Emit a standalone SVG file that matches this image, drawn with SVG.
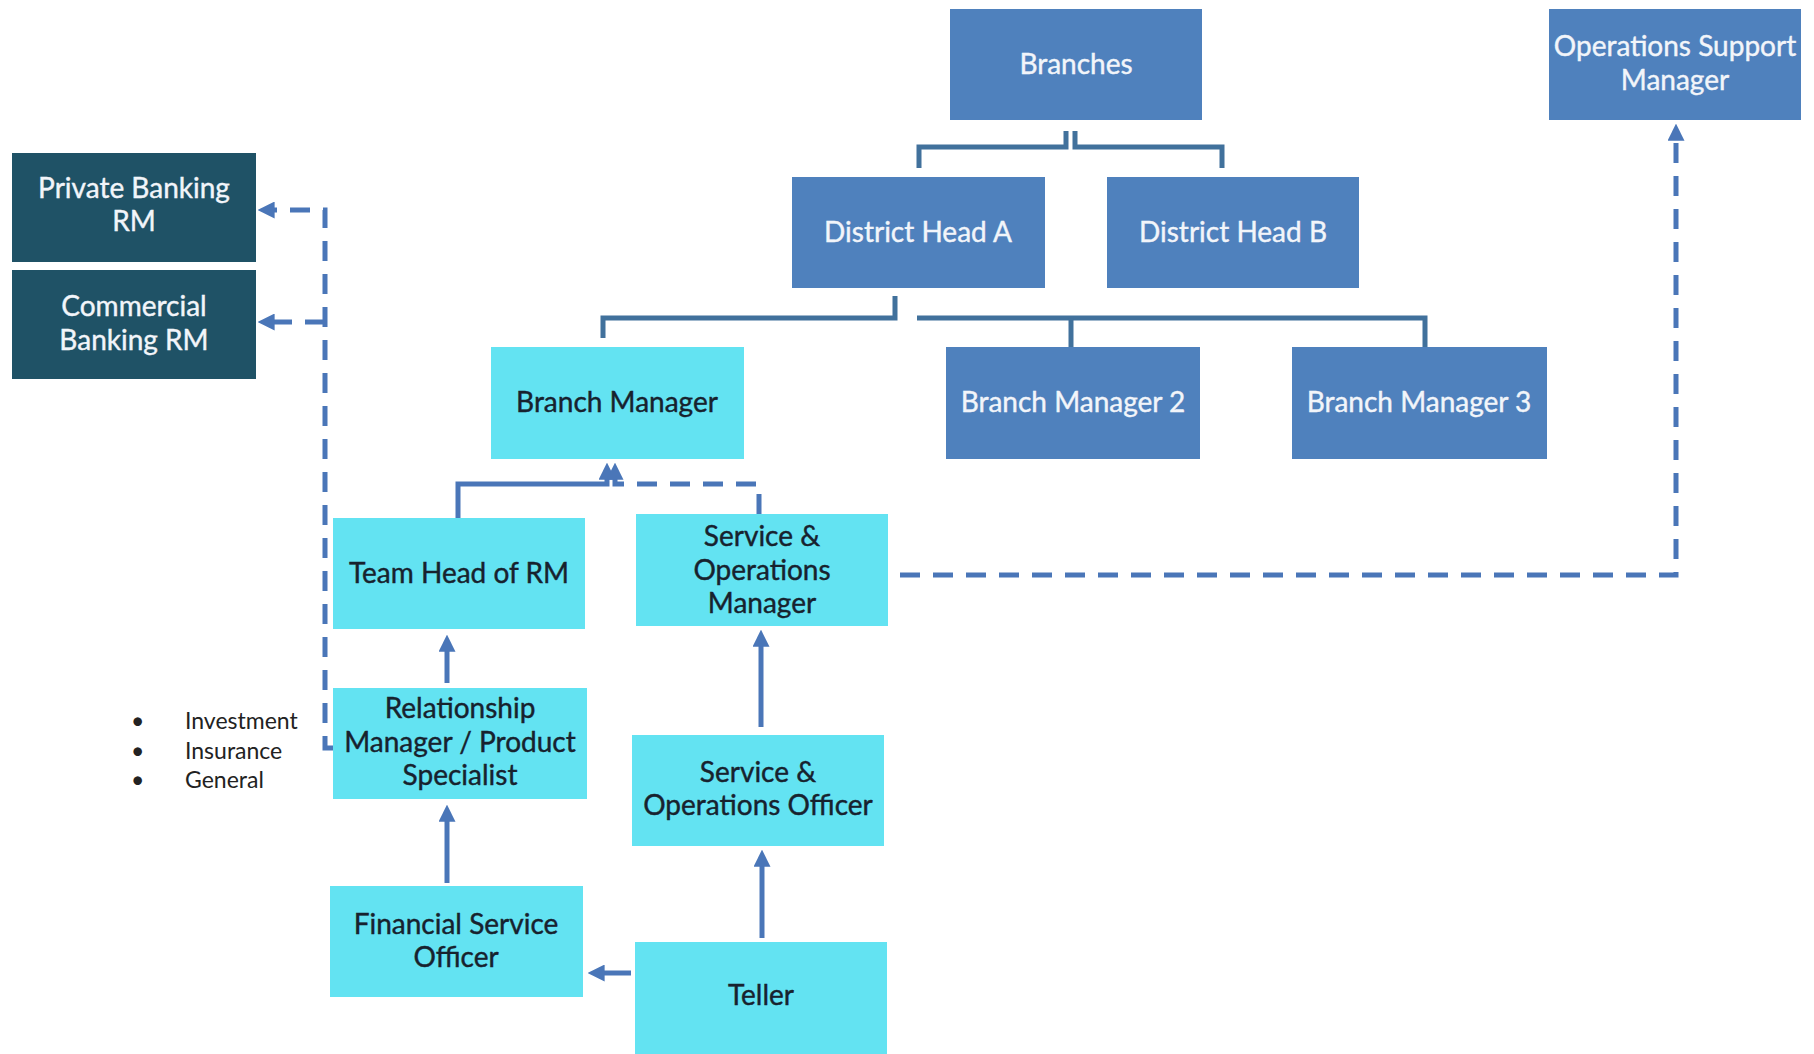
<svg xmlns="http://www.w3.org/2000/svg" width="1814" height="1054" viewBox="0 0 1814 1054">
<style>
.blue{fill:#4F81BD}
.cyan{fill:#63E3F2}
.teal{fill:#1F5266}
.tw{font-family:Lato,"Open Sans",sans-serif;font-size:28px;fill:#F2F5FA;stroke:#F2F5FA;stroke-width:0.4;text-anchor:middle}
.td{font-family:Lato,"Open Sans",sans-serif;font-size:28px;fill:#17222E;stroke:#17222E;stroke-width:0.4;text-anchor:middle}
.tree{fill:none;stroke:#41719C;stroke-width:5}
.arr{fill:none;stroke:#4A76B8;stroke-width:5;marker-end:url(#ah)}
.dash{fill:none;stroke:#4A76B8;stroke-width:5;stroke-dasharray:20 13;marker-end:url(#ah)}
.bl{font-family:Lato,"Open Sans",sans-serif;font-size:23px;fill:#222}
</style>
<defs>
<marker id="ah" viewBox="0 0 16 16" refX="10" refY="8" markerWidth="17" markerHeight="17" markerUnits="userSpaceOnUse" orient="auto">
<path d="M0,0 L16,8 L0,16 Z" fill="#4A76B8"/>
</marker>
</defs>
<rect width="1814" height="1054" fill="#fff"/>
<g id="connectors">
<path class="tree" d="M1066 131 V147 H919 V168"/>
<path class="tree" d="M1075 131 V147 H1222 V168"/>
<path class="tree" d="M895 296 V318 H603 V338"/>
<path class="tree" d="M917 318 H1425 V347"/>
<path class="tree" d="M1071 318 V347"/>
<path class="arr" d="M458 518 V484 H607 V469"/>
<path class="dash" d="M759 514 V484 H615 V469"/>
<path class="arr" d="M447 683 V641"/>
<path class="arr" d="M447 883 V811"/>
<path class="arr" d="M762 938 V856"/>
<path class="arr" d="M761 727 V636"/>
<path class="arr" d="M631 973 H594"/>
<path class="dash" d="M900 575 H1676 V130"/>
<path class="dash" d="M333 748 H325 V210 H264"/>
<path class="dash" d="M325 322 H264"/>
</g>
<g id="branches"><rect class="blue" x="950" y="9" width="252" height="111"/><text class="tw" x="1076" y="74">Branches</text></g>
<g id="ops-support-manager"><rect class="blue" x="1549" y="9" width="252" height="111"/><text class="tw" x="1675" y="56">Operations Support</text><text class="tw" x="1675" y="90">Manager</text></g>
<g id="district-head-a"><rect class="blue" x="792" y="177" width="253" height="111"/><text class="tw" x="918" y="242">District Head A</text></g>
<g id="district-head-b"><rect class="blue" x="1107" y="177" width="252" height="111"/><text class="tw" x="1233" y="242">District Head B</text></g>
<g id="private-banking-rm"><rect class="teal" x="12" y="153" width="244" height="109"/><text class="tw" x="134" y="198">Private Banking</text><text class="tw" x="134" y="231">RM</text></g>
<g id="commercial-banking-rm"><rect class="teal" x="12" y="270" width="244" height="109"/><text class="tw" x="134" y="316">Commercial</text><text class="tw" x="134" y="350">Banking RM</text></g>
<g id="branch-manager"><rect class="cyan" x="491" y="347" width="253" height="112"/><text class="td" x="617" y="412">Branch Manager</text></g>
<g id="branch-manager-2"><rect class="blue" x="946" y="347" width="254" height="112"/><text class="tw" x="1073" y="412">Branch Manager 2</text></g>
<g id="branch-manager-3"><rect class="blue" x="1292" y="347" width="255" height="112"/><text class="tw" x="1419" y="412">Branch Manager 3</text></g>
<g id="team-head-rm"><rect class="cyan" x="333" y="518" width="252" height="111"/><text class="td" x="459" y="583">Team Head of RM</text></g>
<g id="service-ops-manager"><rect class="cyan" x="636" y="514" width="252" height="112"/><text class="td" x="762" y="546">Service &amp;</text><text class="td" x="762" y="580">Operations</text><text class="td" x="762" y="613">Manager</text></g>
<g id="relationship-manager"><rect class="cyan" x="333" y="688" width="254" height="111"/><text class="td" x="460" y="718">Relationship</text><text class="td" x="460" y="752">Manager / Product</text><text class="td" x="460" y="785">Specialist</text></g>
<g id="service-ops-officer"><rect class="cyan" x="632" y="735" width="252" height="111"/><text class="td" x="758" y="782">Service &amp;</text><text class="td" x="758" y="815">Operations Officer</text></g>
<g id="financial-service-officer"><rect class="cyan" x="330" y="886" width="253" height="111"/><text class="td" x="456" y="934">Financial Service</text><text class="td" x="456" y="967">Officer</text></g>
<g id="teller"><rect class="cyan" x="635" y="942" width="252" height="112"/><text class="td" x="761" y="1005">Teller</text></g>
<g id="product-list">
<text class="bl" x="131" y="729">•</text><text class="bl" x="185" y="729">Investment</text>
<text class="bl" x="131" y="759">•</text><text class="bl" x="185" y="759">Insurance</text>
<text class="bl" x="131" y="788">•</text><text class="bl" x="185" y="788">General</text>
</g>
</svg>
